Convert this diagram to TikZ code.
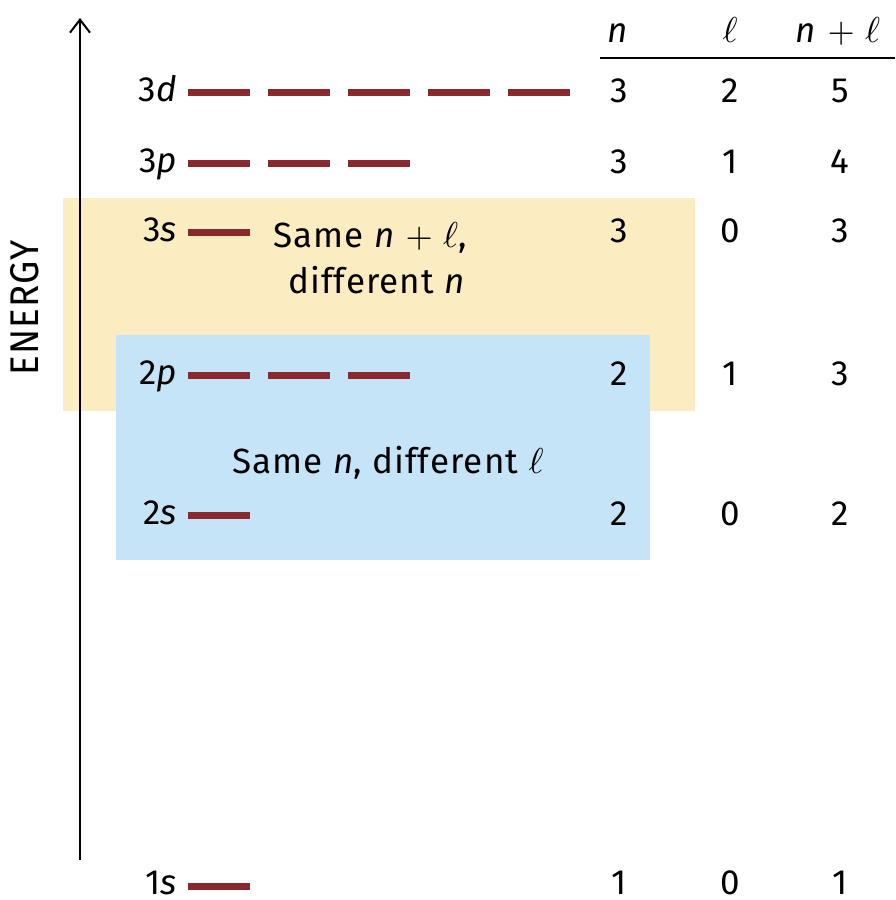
\documentclass[tikz,border=0pt]{standalone}
\usepackage{graphicx}
\usepackage{fontspec}
\setmainfont[LetterSpace=3]{Fira Sans}
\usetikzlibrary{arrows.meta}
\definecolor{barred}{RGB}{139,40,46}
\definecolor{sandbox}{RGB}{252,236,194}
\definecolor{skybox}{RGB}{197,228,247}
% script ell and plus, set at 10pt and enlarged to the text size
\newcommand{\scell}{{\fontsize{10}{12}\selectfont\scalebox{3.6}{$\ell$}}}
\newcommand{\bigplus}{{\fontsize{10}{12}\selectfont\scalebox{3.5}{$+$}}}
\tikzset{
  txt/.style={font=\fontsize{35}{40}\selectfont, inner sep=0pt},
  lvl/.style={txt, anchor=base east},
  cell/.style={txt, anchor=base},
  bar/.style={draw=barred, line width=7pt},
}
\newcommand{\orbbars}[2]{% y, number of bars
  \foreach \k in {1,...,#2}{
    \draw[bar] ({188+80*(\k-1)},#1) -- ({250+80*(\k-1)},#1);
  }}
\begin{document}
\begin{tikzpicture}[x=1pt,y=-1pt]
\useasboundingbox (0,0) rectangle (895,900);

% shaded groups
\fill[sandbox] (63,198) rectangle (695,411);
\fill[skybox] (116,335) rectangle (650,560);

% energy axis
\coordinate (axbot) at (80,860);
\coordinate (axtop) at (80,18);
\draw[line width=2pt, -{Straight Barb[length=13pt,width=20pt,line width=2pt]}] (axbot) -- (axtop);
\node[txt, font=\fontsize{40}{44}\selectfont, rotate=90, xscale=0.92] (energy) at (25,308) {ENERGY};

% orbital levels
\node[lvl] (l3d) at (178,101) {3\textit{d}};  \orbbars{92}{5}
\node[lvl] (l3p) at (178,172) {3\textit{p}}; \orbbars{163}{3}
\node[lvl] (l3s) at (178,241) {3\textit{s}}; \orbbars{232}{1}
\node[lvl] (l2p) at (178,384) {2\textit{p}}; \orbbars{375}{3}
\node[lvl] (l2s) at (178,524) {2\textit{s}}; \orbbars{515}{1}
\node[lvl] (l1s) at (178,894) {1\textit{s}}; \orbbars{886}{1}

% group captions
\node[cell] (cap1) at (370,247) {Same \textit{n} \bigplus\ \scell,};
\node[cell] (cap2) at (377,293) {different \textit{n}};
\node[cell] (cap3) at (388,473) {Same \textit{n}, different \scell};

% table
\node[cell] (hn) at (618,42) {\textit{n}};
\node[cell] (hl) at (730,42) {\scell};
\node[cell] (hs) at (838,42) {\textit{n} \bigplus\ \scell};
\draw[line width=2pt] (600,58) -- (895,58);

\foreach \y/\a/\b/\c in {92/3/2/5, 163/3/1/4, 232/3/0/3, 375/2/1/3, 515/2/0/2, 884/1/0/1}{
  \node[cell] at (619,\y+10) {\a};
  \node[cell] at (730,\y+10) {\b};
  \node[cell] at (840,\y+10) {\c};
}
\end{tikzpicture}
\end{document}
